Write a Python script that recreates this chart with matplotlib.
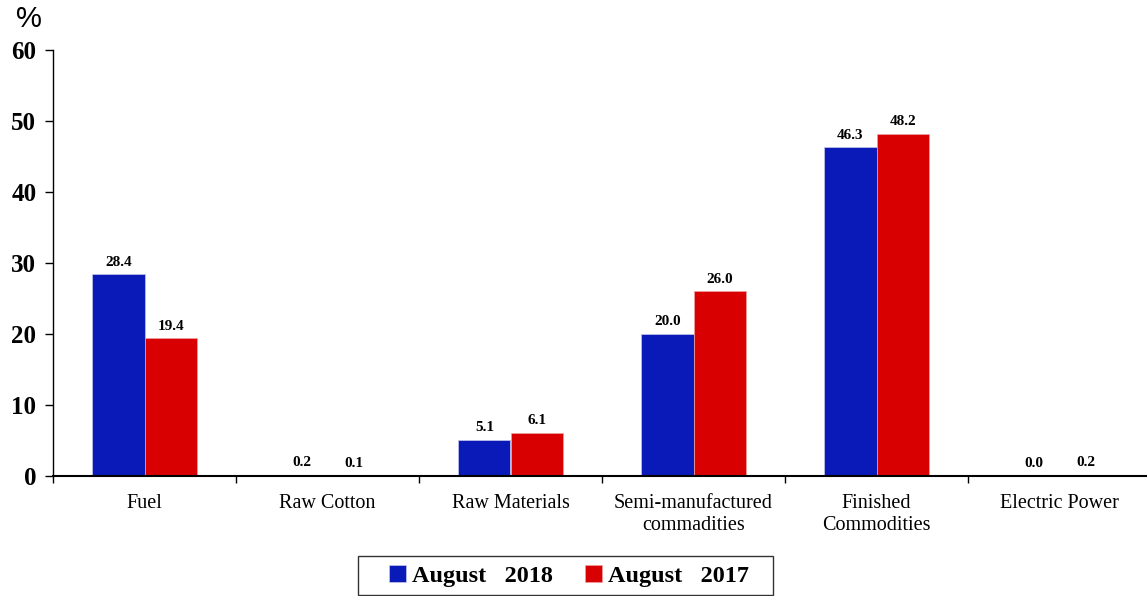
import matplotlib.pyplot as plt
from matplotlib.patches import Rectangle
import numpy as np

categories = ["Fuel", "Raw Cotton", "Raw Materials", "Semi-manufactured\ncommadities",
              "Finished\nCommodities", "Electric Power"]
aug_2018 = [28.4, 0.2, 5.1, 20.0, 46.3, 0.0]
aug_2017 = [19.4, 0.1, 6.1, 26.0, 48.2, 0.2]
series_names = ["August   2018", "August   2017"]
colors = ["#0A1AB8", "#D80000"]

serif = ["Liberation Serif", "DejaVu Serif"]

fig = plt.figure(figsize=(11.47, 5.96), dpi=100)
ax = fig.add_axes([53 / 1147, 1 - 476 / 596, 1098 / 1147, 426 / 596])

x = np.arange(len(categories))
w = 0.285
bars1 = ax.bar(x - w / 2, aug_2018, w, color=colors[0], edgecolor="#c8c8e8", linewidth=0.5, label=series_names[0])
bars2 = ax.bar(x + w / 2, aug_2017, w, color=colors[1], edgecolor="#f0a0a0", linewidth=0.5, label=series_names[1])

for bars, vals in ((bars1, aug_2018), (bars2, aug_2017)):
    for b, v in zip(bars, vals):
        ax.annotate(f"{v:.1f}", (b.get_x() + b.get_width() / 2, v), xytext=(0, 4),
                    textcoords="offset points", ha="center", va="bottom",
                    fontsize=11, fontweight="bold", family=serif)

ax.set_xlim(-0.5, len(categories) - 0.5)
ax.set_ylim(0, 60)
ax.set_yticks(range(0, 61, 10))
ax.set_yticklabels([str(v) for v in range(0, 61, 10)], fontsize=18, fontweight="bold", family=serif)
ax.tick_params(axis="y", direction="out", length=6, width=1, pad=6)

ax.set_xticks(np.arange(len(categories) + 1) - 0.5)
ax.set_xticklabels([])
ax.set_xticks(x, minor=True)
ax.set_xticklabels(categories, minor=True, fontsize=14.5, family=serif, linespacing=1.2)
ax.tick_params(axis="x", which="major", direction="out", length=5, width=1)
ax.tick_params(axis="x", which="minor", length=0, pad=13)

for s in ("top", "right"):
    ax.spines[s].set_visible(False)
ax.spines["left"].set_linewidth(1)
ax.spines["bottom"].set_linewidth(1.5)

fig.text(16 / 1147, 1 - 19 / 596, "%", fontsize=21, family=["Liberation Sans", "DejaVu Sans"],
         ha="left", va="center")

leg = fig.legend(loc="center", bbox_to_anchor=(569 / 1147, 1 - 576 / 596), ncol=2,
                 prop={"family": serif, "weight": "bold", "size": 17.5},
                 frameon=False,
                 handlelength=0.7, handleheight=0.7, handletextpad=0.25,
                 columnspacing=1.3, borderpad=0.3, borderaxespad=0)
fig.patches.append(Rectangle((358 / 1147, 1 - 595 / 596), 415 / 1147, 39 / 596,
                             transform=fig.transFigure, fill=False, edgecolor="#333333", linewidth=1))

fig.savefig("out.png", dpi=100)
